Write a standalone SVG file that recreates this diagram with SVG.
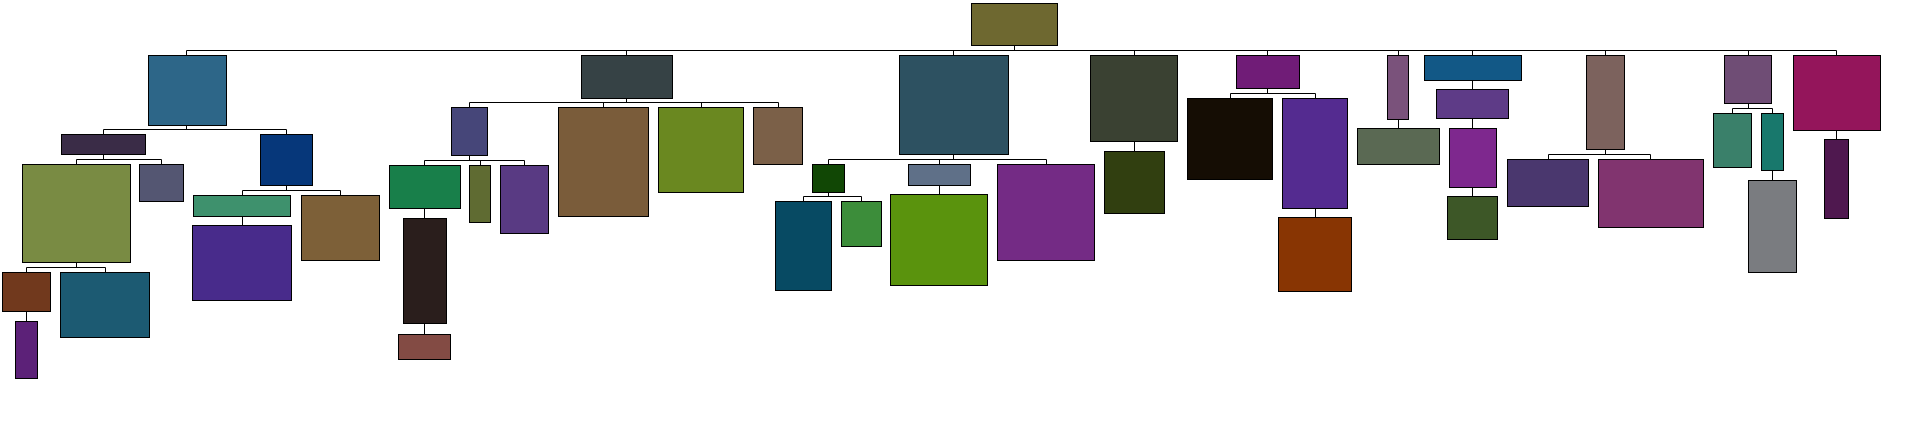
<svg xmlns="http://www.w3.org/2000/svg" width="1909" height="421" viewBox="0 0 1909 421">
<style>
rect{stroke:#000;stroke-width:1}
.c{fill:none;stroke:#000;stroke-width:1}
</style>
<rect x="0" y="0" width="1909" height="421" fill="#fff" style="stroke:none"/>
<g id="connectors" class="c">
<path d="M1014.5 45.5V50.5M186.5 55.5V50.5H1836.5V55.5M626.5 50.5V55.5M953.5 50.5V55.5M1134.5 50.5V55.5M1267.5 50.5V55.5M1398.5 50.5V55.5M1472.5 50.5V55.5M1605.5 50.5V55.5M1748.5 50.5V55.5"/>
<path d="M186.5 125.5V129.5M103.5 134.5V129.5H286.5V134.5"/>
<path d="M103.5 154.5V159.5M76.5 164.5V159.5H161.5V164.5"/>
<path d="M76.5 262.5V267.5M26.5 272.5V267.5H105.5V272.5"/>
<path d="M26.5 311.5V321.5"/>
<path d="M286.5 185.5V190.5M242.5 195.5V190.5H340.5V195.5"/>
<path d="M242.5 216.5V225.5"/>
<path d="M626.5 98.5V102.5M469.5 107.5V102.5H778.5V107.5M603.5 102.5V107.5M701.5 102.5V107.5"/>
<path d="M469.5 155.5V160.5M424.5 165.5V160.5H524.5V165.5M480.5 160.5V165.5"/>
<path d="M424.5 208.5V218.5M424.5 323.5V334.5"/>
<path d="M953.5 154.5V159.5M828.5 164.5V159.5H1046.5V164.5M939.5 159.5V164.5"/>
<path d="M828.5 192.5V196.5M803.5 201.5V196.5H861.5V201.5"/>
<path d="M939.5 185.5V194.5"/>
<path d="M1134.5 141.5V151.5"/>
<path d="M1267.5 88.5V93.5M1230.5 98.5V93.5H1315.5V98.5"/>
<path d="M1315.5 208.5V217.5"/>
<path d="M1398.5 119.5V128.5"/>
<path d="M1472.5 80.5V89.5M1472.5 118.5V128.5M1472.5 187.5V196.5"/>
<path d="M1605.5 149.5V154.5M1548.5 159.5V154.5H1650.5V159.5"/>
<path d="M1748.5 103.5V108.5M1732.5 113.5V108.5H1772.5V113.5"/>
<path d="M1772.5 170.5V180.5"/>
<path d="M1836.5 130.5V139.5"/>
</g>
<g id="root"><rect x="971.5" y="3.5" width="86" height="42" fill="#6e6830"/></g>
<g id="nA"><rect x="148.5" y="55.5" width="78" height="70" fill="#2d6688"/></g>
<g id="nB"><rect x="61.5" y="134.5" width="84" height="20" fill="#3a2c47"/></g>
<g id="nC"><rect x="260.5" y="134.5" width="52" height="51" fill="#06377a"/></g>
<g id="nD"><rect x="22.5" y="164.5" width="108" height="98" fill="#798b43"/></g>
<g id="nE"><rect x="139.5" y="164.5" width="44" height="37" fill="#545672"/></g>
<g id="nF"><rect x="193.5" y="195.5" width="97" height="21" fill="#3e916d"/></g>
<g id="nG"><rect x="301.5" y="195.5" width="78" height="65" fill="#7d6038"/></g>
<g id="nH"><rect x="192.5" y="225.5" width="99" height="75" fill="#482b8b"/></g>
<g id="nI"><rect x="2.5" y="272.5" width="48" height="39" fill="#71391d"/></g>
<g id="nJ"><rect x="60.5" y="272.5" width="89" height="65" fill="#1c5a72"/></g>
<g id="nK"><rect x="15.5" y="321.5" width="22" height="57" fill="#5c2178"/></g>
<g id="nR"><rect x="581.5" y="55.5" width="91" height="43" fill="#364245"/></g>
<g id="nL"><rect x="451.5" y="107.5" width="36" height="48" fill="#464679"/></g>
<g id="nM"><rect x="389.5" y="165.5" width="71" height="43" fill="#187f4a"/></g>
<g id="nN"><rect x="469.5" y="165.5" width="21" height="57" fill="#5f6b32"/></g>
<g id="nO"><rect x="500.5" y="165.5" width="48" height="68" fill="#593a83"/></g>
<g id="nP"><rect x="403.5" y="218.5" width="43" height="105" fill="#2a1e1c"/></g>
<g id="nQ"><rect x="398.5" y="334.5" width="52" height="25" fill="#834b44"/></g>
<g id="nS"><rect x="558.5" y="107.5" width="90" height="109" fill="#7a5c3a"/></g>
<g id="nT"><rect x="658.5" y="107.5" width="85" height="85" fill="#6a8820"/></g>
<g id="nU"><rect x="753.5" y="107.5" width="49" height="57" fill="#7b6048"/></g>
<g id="nV"><rect x="899.5" y="55.5" width="109" height="99" fill="#2d5161"/></g>
<g id="nW"><rect x="812.5" y="164.5" width="32" height="28" fill="#114705"/></g>
<g id="nX"><rect x="908.5" y="164.5" width="62" height="21" fill="#5f7088"/></g>
<g id="nY"><rect x="997.5" y="164.5" width="97" height="96" fill="#742b85"/></g>
<g id="nZ"><rect x="775.5" y="201.5" width="56" height="89" fill="#074a63"/></g>
<g id="nAA"><rect x="841.5" y="201.5" width="40" height="45" fill="#3c8d3a"/></g>
<g id="nAB"><rect x="890.5" y="194.5" width="97" height="91" fill="#5a930d"/></g>
<g id="nAC"><rect x="1090.5" y="55.5" width="87" height="86" fill="#3a4132"/></g>
<g id="nAD"><rect x="1104.5" y="151.5" width="60" height="62" fill="#313f10"/></g>
<g id="nAE"><rect x="1236.5" y="55.5" width="63" height="33" fill="#701c77"/></g>
<g id="nAF"><rect x="1187.5" y="98.5" width="85" height="81" fill="#150d04"/></g>
<g id="nAG"><rect x="1282.5" y="98.5" width="65" height="110" fill="#542b90"/></g>
<g id="nAH"><rect x="1278.5" y="217.5" width="73" height="74" fill="#883503"/></g>
<g id="nAI"><rect x="1387.5" y="55.5" width="21" height="64" fill="#7a527b"/></g>
<g id="nAJ"><rect x="1357.5" y="128.5" width="82" height="36" fill="#5a6953"/></g>
<g id="nAK"><rect x="1424.5" y="55.5" width="97" height="25" fill="#125886"/></g>
<g id="nAL"><rect x="1436.5" y="89.5" width="72" height="29" fill="#5e3b87"/></g>
<g id="nAM"><rect x="1449.5" y="128.5" width="47" height="59" fill="#7e288e"/></g>
<g id="nAN"><rect x="1447.5" y="196.5" width="50" height="43" fill="#3d5727"/></g>
<g id="nAO"><rect x="1586.5" y="55.5" width="38" height="94" fill="#7c625d"/></g>
<g id="nAP"><rect x="1507.5" y="159.5" width="81" height="47" fill="#4a376e"/></g>
<g id="nAQ"><rect x="1598.5" y="159.5" width="105" height="68" fill="#81346f"/></g>
<g id="nAR"><rect x="1724.5" y="55.5" width="47" height="48" fill="#6f4d75"/></g>
<g id="nAS"><rect x="1713.5" y="113.5" width="38" height="54" fill="#3a806a"/></g>
<g id="nAT"><rect x="1761.5" y="113.5" width="22" height="57" fill="#18786c"/></g>
<g id="nAU"><rect x="1748.5" y="180.5" width="48" height="92" fill="#7a7c80"/></g>
<g id="nAV"><rect x="1793.5" y="55.5" width="87" height="75" fill="#94155b"/></g>
<g id="nAW"><rect x="1824.5" y="139.5" width="24" height="79" fill="#4f184f"/></g>
</svg>
